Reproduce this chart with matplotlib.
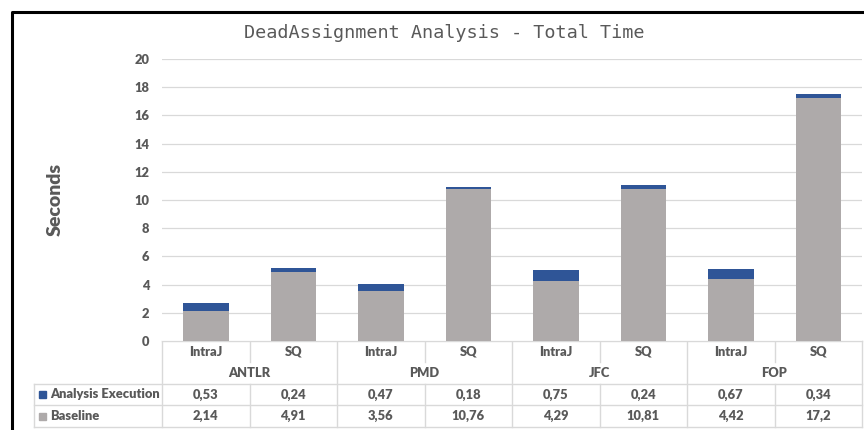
import matplotlib
matplotlib.use("Agg")
import matplotlib.pyplot as plt
import numpy as np

groups = ["ANTLR", "PMD", "JFC", "FOP"]
tools = ["IntraJ", "SQ"]
analysis = [0.53, 0.24, 0.47, 0.18, 0.75, 0.24, 0.67, 0.34]
baseline = [2.14, 4.91, 3.56, 10.76, 4.29, 10.81, 4.42, 17.2]
series_names = ["Analysis Execution", "Baseline"]
yticks = list(range(0, 21, 2))

BLUE = "#2F5597"
GRAY = "#AEAAAA"
TXT = "#595959"
GRID = "#D9D9D9"
WT = 800

plt.rcParams["font.family"] = ["Lato", "DejaVu Sans"]

W, H = 864, 430
fig = plt.figure(figsize=(W / 100, H / 100), dpi=100)

# overlay axes in pixel coordinates for the frame and data table
bg = fig.add_axes([0, 0, 1, 1])
bg.set_xlim(0, W)
bg.set_ylim(H, 0)
bg.axis("off")

# chart area
L, R, T, B = 162, 862, 59, 341
ax = fig.add_axes([L / W, 1 - B / H, (R - L) / W, (B - T) / H])
n = len(baseline)
x = np.arange(n)
ax.bar(x, baseline, width=0.52, color=GRAY, zorder=3)
ax.bar(x, analysis, width=0.52, bottom=baseline, color=BLUE, zorder=3)
ax.set_xlim(-0.5, n - 0.5)
ax.set_ylim(0, 20)
ax.set_yticks(yticks)
ax.set_yticklabels([str(t) for t in yticks], fontsize=9.3, fontweight=WT, color=TXT)
ax.tick_params(axis="y", length=0, pad=9)
ax.set_xticks([])
for s in ax.spines.values():
    s.set_visible(False)
ax.yaxis.grid(True, color=GRID, lw=0.9, zorder=0)
ax.set_axisbelow(True)

# title and y label
bg.text(444, 33, "DeadAssignment Analysis - Total Time", family="DejaVu Sans Mono",
        fontsize=13.3, color=TXT, ha="center", va="center")
bg.text(55, 200, "Seconds", rotation=90, fontsize=14, fontweight=WT,
        color=TXT, ha="center", va="center")

# outer frame (only top and left visible)
bg.plot([12, 12, W + 5], [H + 5, 12, 12], color="black", lw=2.2)

# data table
colw = (R - L) / n
y0, y1, y2, y3, y4 = 341, 362, 384, 405, 427
LL = 34
lk = dict(color=GRID, lw=1)
bg.plot([L, R], [y0, y0], **lk)
for yy in (y2, y3, y4):
    bg.plot([LL, R], [yy, yy], **lk)
bg.plot([LL, LL], [y2, y4], **lk)
for i in range(n + 1):
    xx = L + i * colw
    if i % 2 == 0:
        bg.plot([xx, xx], [y0, y4], **lk)
    else:
        bg.plot([xx, xx], [y0, y1], **lk)
        bg.plot([xx, xx], [y2, y4], **lk)

fk = dict(fontsize=9.3, fontweight=WT, color=TXT, ha="center", va="center")
for i in range(n):
    cx = L + (i + 0.5) * colw
    bg.text(cx, (y0 + y1) / 2, tools[i % 2], **fk)
    bg.text(cx, (y2 + y3) / 2, f"{analysis[i]:g}".replace(".", ","), **fk)
    bg.text(cx, (y3 + y4) / 2, f"{baseline[i]:g}".replace(".", ","), **fk)
for g, name in enumerate(groups):
    cx = L + (2 * g + 1) * colw
    bg.text(cx, (y1 + y2) / 2, name, **fk)

for (yy0, yy1), name, col in zip([(y2, y3), (y3, y4)], series_names, [BLUE, GRAY]):
    ym = (yy0 + yy1) / 2
    bg.add_patch(plt.Rectangle((39, ym - 3.5), 7, 7, color=col))
    bg.text(50, ym, name, fontsize=9.3, fontweight=WT, color=TXT, ha="left", va="center")

fig.savefig("out.png", dpi=100)
